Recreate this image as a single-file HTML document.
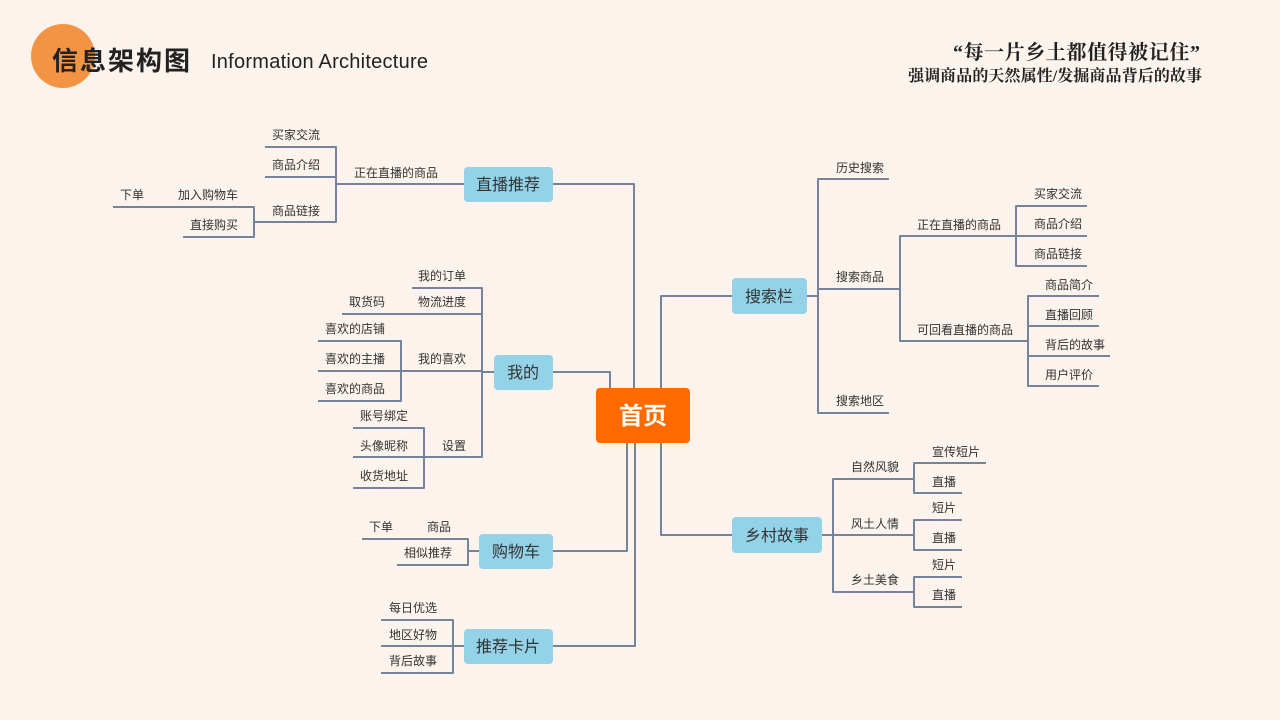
<!DOCTYPE html>
<html><head><meta charset="utf-8"><style>
html,body{margin:0;padding:0;background:#fbf3ec;}
svg{display:block}
text{font-family:"Liberation Sans","Noto Sans CJK SC",sans-serif;fill:#333;font-size:12px}
.n{font-size:16px;text-anchor:middle;fill:#333}
</style></head><body>
<svg width="1280" height="720" viewBox="0 0 1280 720" xmlns="http://www.w3.org/2000/svg">
<rect width="1280" height="720" fill="#fbf3ec"/>
<circle cx="63" cy="56" r="32" fill="#f39444"/>
<text x="52" y="70" textLength="138" style="font-size:26px;font-weight:bold;fill:#222">信息架构图</text>
<text x="211" y="68" textLength="217" style="font-size:20px;fill:#222">Information Architecture</text>
<text x="953" y="59" textLength="247" style="font-family:'Liberation Serif','Noto Serif CJK SC',serif;font-size:20px;font-weight:bold;fill:#222">“每一片乡土都值得被记住”</text>
<text x="908" y="81" textLength="294" style="font-family:'Liberation Serif','Noto Serif CJK SC',serif;font-size:16px;font-weight:bold;fill:#222">强调商品的天然属性/发掘商品背后的故事</text>

<g fill="none" stroke="#74849c" stroke-width="2" stroke-linejoin="round">
<polyline points="553,184 634,184 634,388"/>
<polyline points="553,372 610,372 610,388"/>
<polyline points="627,443 627,551 553,551"/>
<polyline points="635,443 635,646 553,646"/>
<polyline points="733,296 661,296 661,388"/>
<polyline points="661,443 661,535 733,535"/>
<line x1="464" y1="184" x2="336" y2="184"/>
<polyline points="265,147 336,147 336,222 265,222"/>
<line x1="265" y1="177" x2="336" y2="177"/>
<polyline points="113,207 254,207 254,237 183,237"/>
<line x1="254" y1="222" x2="265" y2="222"/>
<line x1="494" y1="372" x2="482" y2="372"/>
<polyline points="412,288 482,288 482,457 424,457"/>
<line x1="342" y1="314" x2="482" y2="314"/>
<line x1="401" y1="371" x2="482" y2="371"/>
<polyline points="318,341 401,341 401,401 318,401"/>
<line x1="318" y1="371" x2="401" y2="371"/>
<polyline points="353,428 424,428 424,488 353,488"/>
<line x1="353" y1="457" x2="424" y2="457"/>
<line x1="479" y1="551" x2="468" y2="551"/>
<polyline points="362,539 468,539 468,565 397,565"/>
<line x1="464" y1="646" x2="453" y2="646"/>
<polyline points="381,620 453,620 453,673 381,673"/>
<line x1="381" y1="646" x2="453" y2="646"/>
<line x1="807" y1="296" x2="818" y2="296"/>
<polyline points="889,179 818,179 818,413 889,413"/>
<line x1="818" y1="289" x2="900" y2="289"/>
<polyline points="1016,236 900,236 900,341 1028,341"/>
<polyline points="1087,206 1016,206 1016,266 1087,266"/>
<line x1="1016" y1="236" x2="1087" y2="236"/>
<polyline points="1099,296 1028,296 1028,386 1099,386"/>
<line x1="1028" y1="326" x2="1099" y2="326"/>
<line x1="1028" y1="356" x2="1110" y2="356"/>
<line x1="822" y1="535" x2="833" y2="535"/>
<polyline points="914,479 833,479 833,592 914,592"/>
<line x1="833" y1="535" x2="914" y2="535"/>
<polyline points="986,463 914,463 914,493 962,493"/>
<polyline points="962,520 914,520 914,550 962,550"/>
<polyline points="962,577 914,577 914,607 962,607"/>
</g>

<rect x="596" y="388" width="94" height="55" rx="4" fill="#ff6a00"/>
<text x="643" y="424" class="n" style="fill:#fff;font-size:24px;font-weight:bold">首页</text>
<rect x="464" y="167" width="89" height="35" rx="4" fill="#94d2e8"/><text x="508" y="190" class="n">直播推荐</text>
<rect x="494" y="355" width="59" height="35" rx="4" fill="#94d2e8"/><text x="523" y="378" class="n">我的</text>
<rect x="479" y="534" width="74" height="35" rx="4" fill="#94d2e8"/><text x="516" y="557" class="n">购物车</text>
<rect x="464" y="629" width="89" height="35" rx="4" fill="#94d2e8"/><text x="508" y="652" class="n">推荐卡片</text>
<rect x="732" y="278" width="75" height="36" rx="4" fill="#94d2e8"/><text x="769" y="302" class="n">搜索栏</text>
<rect x="732" y="517" width="90" height="36" rx="4" fill="#94d2e8"/><text x="777" y="541" class="n">乡村故事</text>

<text x="272" y="139">买家交流</text>
<text x="272" y="169">商品介绍</text>
<text x="272" y="215">商品链接</text>
<text x="354" y="177">正在直播的商品</text>
<text x="120" y="199">下单</text>
<text x="178" y="199">加入购物车</text>
<text x="190" y="229">直接购买</text>
<text x="418" y="280">我的订单</text>
<text x="349" y="306">取货码</text>
<text x="418" y="306">物流进度</text>
<text x="325" y="333">喜欢的店铺</text>
<text x="325" y="363">喜欢的主播</text>
<text x="418" y="363">我的喜欢</text>
<text x="325" y="393">喜欢的商品</text>
<text x="360" y="420">账号绑定</text>
<text x="360" y="450">头像昵称</text>
<text x="442" y="450">设置</text>
<text x="360" y="480">收货地址</text>
<text x="369" y="531">下单</text>
<text x="427" y="531">商品</text>
<text x="404" y="557">相似推荐</text>
<text x="389" y="612">每日优选</text>
<text x="389" y="639">地区好物</text>
<text x="389" y="665">背后故事</text>
<text x="836" y="172">历史搜索</text>
<text x="836" y="281">搜索商品</text>
<text x="836" y="405">搜索地区</text>
<text x="917" y="229">正在直播的商品</text>
<text x="917" y="334">可回看直播的商品</text>
<text x="1034" y="198">买家交流</text>
<text x="1034" y="228">商品介绍</text>
<text x="1034" y="258">商品链接</text>
<text x="1045" y="289">商品简介</text>
<text x="1045" y="319">直播回顾</text>
<text x="1045" y="349">背后的故事</text>
<text x="1045" y="379">用户评价</text>
<text x="851" y="471">自然风貌</text>
<text x="851" y="528">风土人情</text>
<text x="851" y="584">乡土美食</text>
<text x="932" y="456">宣传短片</text>
<text x="932" y="486">直播</text>
<text x="932" y="512">短片</text>
<text x="932" y="542">直播</text>
<text x="932" y="569">短片</text>
<text x="932" y="599">直播</text>
</svg>
</body></html>
